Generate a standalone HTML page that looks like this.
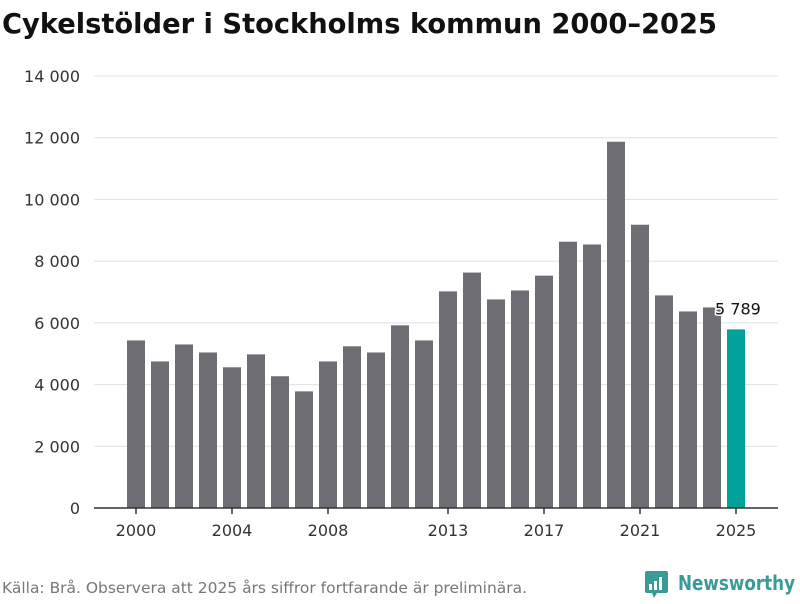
<!DOCTYPE html>
<html><head><meta charset="utf-8"><style>
body{margin:0;background:#fff;font-family:"DejaVu Sans","Liberation Sans",sans-serif;}
</style></head><body>
<svg width="800" height="600" xmlns="http://www.w3.org/2000/svg">
<text x="2" y="33" font-size="28" font-weight="bold" fill="#111" textLength="715" lengthAdjust="spacingAndGlyphs">Cykelstölder i Stockholms kommun 2000–2025</text>
<g id="grid"></g><g id="bars"></g><g id="xaxis"></g>
<text x="2" y="593" font-size="15" fill="#777" textLength="525" lengthAdjust="spacingAndGlyphs">Källa: Brå. Observera att 2025 års siffror fortfarande är preliminära.</text>
<g>
<rect x="645" y="571" width="23" height="22" rx="2" fill="#3a9a96"/>
<polygon points="652,593 657,593 654,598" fill="#3a9a96"/>
<rect x="649" y="584" width="3" height="6" fill="#fff"/><rect x="654" y="581" width="3" height="9" fill="#fff"/><rect x="659" y="577" width="3" height="13" fill="#fff"/>
<text x="678" y="590" font-size="20" font-weight="bold" fill="#3a9a96" textLength="117" lengthAdjust="spacingAndGlyphs">Newsworthy</text>
</g>
</svg>
<script>
const years=[2000,2001,2002,2003,2004,2005,2006,2007,2008,2009,2010,2011,2012,2013,2014,2015,2016,2017,2018,2019,2020,2021,2022,2023,2024,2025];
const values=[5430,4750,5300,5040,4560,4980,4270,3780,4750,5240,5040,5920,5430,7020,7630,6760,7050,7530,8630,8540,11870,9180,6890,6370,6500,5789];
const yTicks=[0,2000,4000,6000,8000,10000,12000,14000];
const yTickLabels=["0","2 000","4 000","6 000","8 000","10 000","12 000","14 000"];
const xTickLabels=[2000,2004,2008,2013,2017,2021,2025];
const NS="http://www.w3.org/2000/svg";
const y=v=>508-v*(432/14000);
const x=yr=>136+(yr-2000)*24;
function mk(t,a,p){const e=document.createElementNS(NS,t);for(const k in a)e.setAttribute(k,a[k]);p.appendChild(e);return e;}
const g=document.getElementById('grid'),b=document.getElementById('bars'),xa=document.getElementById('xaxis');
yTicks.forEach((v,i)=>{
 if(v>0){const l=mk('line',{x1:94,x2:778,y1:y(v),y2:y(v),stroke:'#e0e0e0','stroke-width':1},g);
 
 }
 const t=mk('text',{x:80,y:y(v)+6,'text-anchor':'end','font-size':16,fill:'#333'},g);t.textContent=yTickLabels[i];
 
 
});
years.forEach((yr,i)=>{
 const r=mk('rect',{x:x(yr)-9,y:y(values[i]),width:18,height:508-y(values[i]),fill:yr===2025?'#00a29a':'#6e6d73'},b);
 
 
});
const li=years.length-1;
const lab=mk('text',{x:x(years[li])-21,y:y(values[li])-15,'font-size':16,fill:'#111',stroke:'#fff','stroke-width':3,'paint-order':'stroke'},b);
lab.textContent="5 789";


const ax=mk('line',{x1:94,x2:778,y1:508,y2:508,stroke:'#333','stroke-width':1.5},xa);


xTickLabels.forEach(yr=>{
 const tk=mk('line',{x1:x(yr),x2:x(yr),y1:508,y2:514,stroke:'#333','stroke-width':1.5},xa);
 
 
 const t=mk('text',{x:x(yr),y:536,'text-anchor':'middle','font-size':16,fill:'#333'},xa);t.textContent=yr;
 
 
});
</script>
</body></html>
